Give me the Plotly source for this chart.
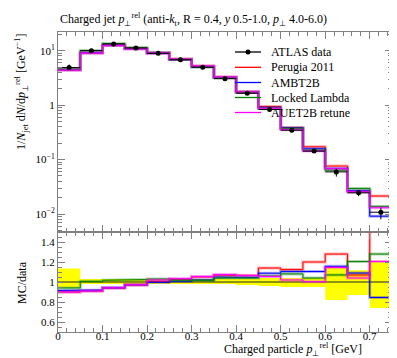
import plotly.graph_objects as go

# ---------------- data ----------------
bin_edges = [0.0, 0.05, 0.10, 0.15, 0.20, 0.25, 0.30, 0.35, 0.40, 0.45, 0.50, 0.55, 0.60, 0.65, 0.70, 0.75]
data_vals = [4.9, 10.0, 13.3, 11.2, 8.96, 6.8, 4.96, 3.06, 1.65, 0.83, 0.346, 0.143, 0.0594, 0.0245, 0.0108]
data_err_up = [0.66, 0.3, 0.4, 0.34, 0.27, 0.2, 0.15, 0.09, 0.05, 0.033, 0.014, 0.0057, 0.0089, 0.0029, 0.0023]
data_err_dn = [0.27, 0.2, 0.27, 0.22, 0.18, 0.14, 0.1, 0.06, 0.05, 0.033, 0.017, 0.0072, 0.0107, 0.0032, 0.0028]

perugia = [4.41, 9.1, 12.5, 10.86, 9.0, 6.97, 5.21, 3.27, 1.757, 0.946, 0.389, 0.1716, 0.0760, 0.0262, 0.0214]
ambt2b = [4.48, 9.2, 12.53, 10.9, 8.93, 6.85, 5.06, 3.21, 1.724, 0.903, 0.382, 0.158, 0.0687, 0.0267, 0.00913]
locked = [4.61, 10.07, 13.53, 11.47, 9.23, 6.94, 5.04, 3.18, 1.716, 0.88, 0.374, 0.1487, 0.0636, 0.0295, 0.01382]
auet2b = [4.41, 9.1, 12.53, 10.9, 9.14, 7.03, 5.23, 3.29, 1.756, 0.875, 0.353, 0.1434, 0.068, 0.02548, 0.01302]

mc_names = ["Perugia 2011", "AMBT2B", "Locked Lambda", "AUET2B retune"]
mc_colors = ["#ff0000", "#0000ff", "#008000", "#ff00ff"]
mc_series = [perugia, ambt2b, locked, auet2b]

main_yticks = [0.01, 0.1, 1, 10]
main_yticktext = ["10<sup>−2</sup>", "10<sup>−1</sup>", "1", "10<sup>1</sup>"]
ratio_yticks = [0.6, 0.8, 1.0, 1.2, 1.4]
ratio_yticktext = ["0.6", "0.8", "1", "1.2", "1.4"]
xticks = [0.0, 0.1, 0.2, 0.3, 0.4, 0.5, 0.6, 0.7]
xticktext = ["0", "0.1", "0.2", "0.3", "0.4", "0.5", "0.6", "0.7"]

FONT = "Liberation Serif"
AX = "#808080"


def steps(edges, vals):
    xs, ys = [], []
    for i, v in enumerate(vals):
        xs += [edges[i], edges[i + 1]]
        ys += [v, v]
    return xs, ys


centers = [(bin_edges[i] + bin_edges[i + 1]) / 2 for i in range(len(data_vals))]
halfw = [(bin_edges[i + 1] - bin_edges[i]) / 2 for i in range(len(data_vals))]

fig = go.Figure()

# ---- ratio band (data uncertainty) ----
band_lo = [1 - d / v for d, v in zip(data_err_dn, data_vals)]
band_hi = [1 + u / v for u, v in zip(data_err_up, data_vals)]
bx, blo = steps(bin_edges, band_lo)
_, bhi = steps(bin_edges, band_hi)
fig.add_trace(go.Scatter(x=bx, y=blo, mode="lines", line=dict(width=0, color="#ffff00"),
                         xaxis="x2", yaxis="y2", showlegend=False, hoverinfo="skip"))
fig.add_trace(go.Scatter(x=bx, y=bhi, mode="lines", line=dict(width=0, color="#ffff00"),
                         fill="tonexty", fillcolor="#ffff00",
                         xaxis="x2", yaxis="y2", showlegend=False, hoverinfo="skip"))
ox, oy = steps(bin_edges, [v / v for v in data_vals])
fig.add_trace(go.Scatter(x=ox, y=oy, mode="lines", line=dict(width=1, color="#222222"),
                         xaxis="x2", yaxis="y2", showlegend=False))

# ---- MC lines ----
for name, col, ser in zip(mc_names, mc_colors, mc_series):
    sx, sy = steps(bin_edges, ser)
    rx, ry = steps(bin_edges, [m / d for m, d in zip(ser, data_vals)])
    for width, op in ((3, 0.3), (1, 1.0)):
        fig.add_trace(go.Scatter(x=sx, y=sy, mode="lines", line=dict(width=width, color=col),
                                 opacity=op, xaxis="x", yaxis="y", showlegend=False, name=name))
        fig.add_trace(go.Scatter(x=rx, y=ry, mode="lines", line=dict(width=width, color=col),
                                 opacity=op, xaxis="x2", yaxis="y2", showlegend=False, name=name))

# ---- data points ----
fig.add_trace(go.Scatter(
    x=centers, y=data_vals, mode="markers",
    marker=dict(color="black", size=5),
    error_x=dict(type="data", array=halfw, color="black", thickness=1, width=0),
    error_y=dict(type="data", symmetric=False, array=data_err_up, arrayminus=data_err_dn,
                 color="black", thickness=1, width=0),
    xaxis="x", yaxis="y", showlegend=False, name="ATLAS data"))

# ---------------- layout ----------------
L, R, T, B = 50, 13, 24, 34
W, H = 397, 358
pw, ph = W - L - R, H - T - B


def px(x):
    return (x - L) / pw


def py(y):
    return (H - B - y) / ph


tickfont = dict(family=FONT, size=11, color="black")
common_x = dict(range=[0, 0.75], ticks="inside", ticklen=7, tickcolor=AX, linecolor=AX,
                showline=True, mirror="ticks", showgrid=False, zeroline=False,
                tickvals=xticks, ticktext=xticktext,
                minor=dict(ticks="inside", ticklen=4, tickcolor=AX, dtick=0.02, tick0=0, showgrid=False))

minor_log = [m * 10 ** e for e in range(-3, 2) for m in range(2, 10)]

fig.update_layout(
    width=W, height=H,
    margin=dict(l=L, r=R, t=T, b=B),
    paper_bgcolor="white", plot_bgcolor="white",
    font=dict(family=FONT, size=11, color="black"),
    xaxis=dict(domain=[0, 1], anchor="y", showticklabels=False, **common_x),
    yaxis=dict(domain=[1 / 3, 1], type="log", range=[-2.33, 1.343], anchor="x",
               ticks="inside", ticklen=7, tickcolor=AX, linecolor=AX, showline=True, mirror="ticks",
               showgrid=False, zeroline=False, tickmode="array", tickvals=main_yticks,
               ticktext=main_yticktext, tickfont=tickfont,
               minor=dict(ticks="inside", ticklen=4, tickcolor=AX, tickmode="array",
                          tickvals=minor_log, showgrid=False)),
    xaxis2=dict(domain=[0, 1], anchor="y2", showticklabels=True, tickfont=tickfont,
                ticklabelstandoff=-6, **common_x),
    yaxis2=dict(domain=[0, 1 / 3], range=[0.5, 1.5], anchor="x2",
                ticks="inside", ticklen=7, tickcolor=AX, linecolor=AX, showline=True, mirror="ticks",
                showgrid=False, zeroline=False, tickmode="array", tickvals=ratio_yticks,
                ticktext=ratio_yticktext, tickfont=tickfont,
                minor=dict(ticks="inside", ticklen=4, tickcolor=AX, dtick=0.05, tick0=0.5, showgrid=False)),
)

ann = []
ann.append(dict(xref="paper", yref="paper", x=px(50), y=py(12), xanchor="left", yanchor="middle",
                showarrow=False, font=dict(family=FONT, size=12),
                text="Charged jet <i>p</i><sub>⊥</sub><sup>rel</sup> (anti-<i>k</i><sub>t</sub>, R = 0.4, "
                     "<i>y</i> 0.5-1.0, <i>p</i><sub>⊥</sub> 4.0-6.0)"))
ann.append(dict(xref="paper", yref="paper", x=px(14), y=py(84), xanchor="center", yanchor="middle",
                textangle=-90, showarrow=False, font=dict(family=FONT, size=12),
                text="1/<i>N</i><sub>jet</sub> d<i>N</i>/d<i>p</i><sub>⊥</sub><sup>rel</sup> [GeV<sup>−1</sup>]"))
ann.append(dict(xref="paper", yref="paper", x=px(14), y=py(275), xanchor="center", yanchor="middle",
                textangle=-90, showarrow=False, font=dict(family=FONT, size=12), text="MC/data"))
ann.append(dict(xref="paper", yref="paper", x=px(214), y=py(341), xanchor="left", yanchor="middle",
                showarrow=False, font=dict(family=FONT, size=12),
                text="Charged particle <i>p</i><sub>⊥</sub><sup>rel</sup> [GeV]"))

# manual legend
leg_names = ["ATLAS data"] + mc_names
leg_colors = ["black"] + mc_colors
leg_rows = [44, 59.3, 74.5, 89.5, 104.5]
shapes = []
for nm, col, yy in zip(leg_names, leg_colors, leg_rows):
    shapes.append(dict(type="line", xref="paper", yref="paper", x0=px(227), x1=px(253),
                       y0=py(yy), y1=py(yy), line=dict(color=col, width=1.3)))
    ann.append(dict(xref="paper", yref="paper", x=px(261), y=py(yy), xanchor="left", yanchor="middle",
                    showarrow=False, font=dict(family=FONT, size=12), text=nm))
shapes.append(dict(type="circle", xref="paper", yref="paper", x0=px(237.5), x1=px(242.5),
                   y0=py(leg_rows[0] - 2.5), y1=py(leg_rows[0] + 2.5),
                   fillcolor="black", line=dict(color="black", width=0)))

fig.update_layout(annotations=ann, shapes=shapes)

fig.write_html("out.html")
